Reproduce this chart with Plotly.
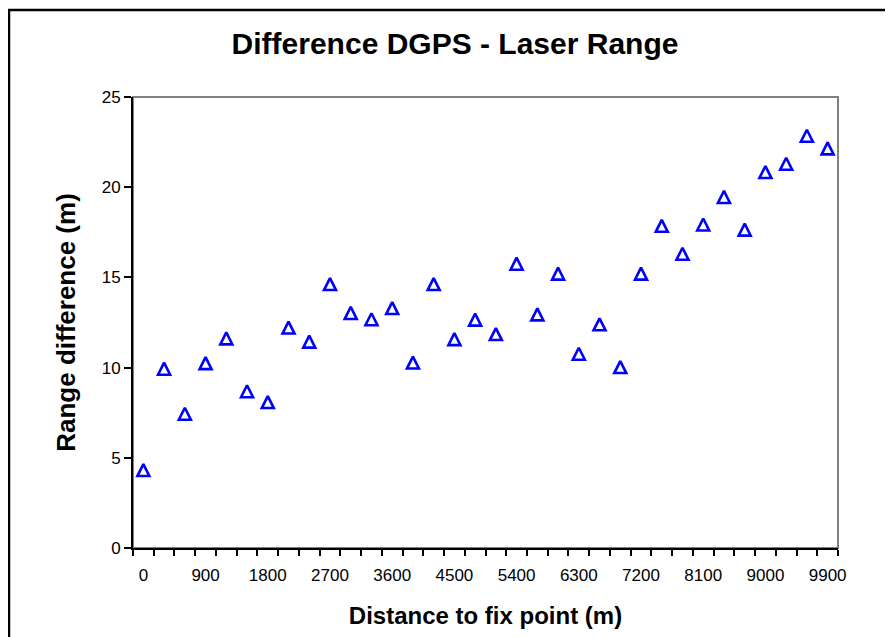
import plotly.graph_objects as go

distance_m = [0, 300, 600, 900, 1200, 1500, 1800, 2100, 2400, 2700, 3000, 3300,
              3600, 3900, 4200, 4500, 4800, 5100, 5400, 5700, 6000, 6300, 6600,
              6900, 7200, 7500, 7800, 8100, 8400, 8700, 9000, 9300, 9600, 9900]
range_diff_m = [4.32, 9.94, 7.44, 10.25, 11.62, 8.69, 8.09, 12.22, 11.44, 14.63,
                13.03, 12.68, 13.30, 10.28, 14.63, 11.58, 12.66, 11.86, 15.76,
                12.95, 15.21, 10.77, 12.40, 10.03, 15.21, 17.86, 16.31, 17.93,
                19.46, 17.65, 20.84, 21.30, 22.85, 22.15]
x_tick_labels = [0, 900, 1800, 2700, 3600, 4500, 5400, 6300, 7200, 8100, 9000, 9900]
y_tick_labels = [0, 5, 10, 15, 20, 25]

FONT = "Liberation Sans, Arial, sans-serif"
# the page body adds an 8px offset, so the figure is 8px smaller on each axis
W, H = 885, 629
L, T = 125, 89
R, B = 55, 89
pw, ph = W - L - R, H - T - B

fig = go.Figure()
fig.add_trace(go.Scatter(
    x=distance_m, y=range_diff_m, mode="markers",
    marker=dict(symbol="arrow-down-open", angle=180, standoff=6, size=12,
                color="#0000FF", line=dict(color="#0000FF", width=2.6)),
    showlegend=False, cliponaxis=False,
))

fig.update_layout(
    width=W, height=H,
    margin=dict(l=L, r=R, t=T, b=B),
    paper_bgcolor="white", plot_bgcolor="white",
    font=dict(family=FONT, color="black"),
    title=dict(text="<b>Difference DGPS - Laser Range</b>",
               font=dict(size=30, family=FONT, color="black"),
               x=447 / W, xanchor="center", y=1 - 35 / H, yanchor="middle",
               xref="container", yref="container"),
    xaxis=dict(
        range=[-150, 10050], showgrid=False, zeroline=False,
        tickmode="array", tickvals=x_tick_labels, ticktext=[str(v) for v in x_tick_labels],
        ticks="", tickfont=dict(size=17, family=FONT), ticklabelstandoff=11,
        showline=True, linecolor="black", linewidth=2,
        minor=dict(tick0=-150, dtick=300, ticks="outside", ticklen=6,
                   tickcolor="black", tickwidth=1.5, showgrid=False),
        title=dict(text="<b>Distance to fix point (m)</b>",
                   font=dict(size=24, family=FONT), standoff=23),
        fixedrange=True,
    ),
    yaxis=dict(
        range=[0, 25], showgrid=False, zeroline=False,
        tickmode="array", tickvals=y_tick_labels,
        ticks="outside", ticklen=7, tickcolor="black", tickwidth=1.5,
        tickfont=dict(size=17, family=FONT),
        showline=True, linecolor="black", linewidth=2,
        title=dict(text="<b>Range difference (m)</b>",
                   font=dict(size=26, family=FONT), standoff=19),
        fixedrange=True,
    ),
    shapes=[
        dict(type="rect", xref="paper", yref="paper", x0=0, x1=1, y0=0, y1=1,
             line=dict(color="#808080", width=2), layer="below"),
        dict(type="rect", xref="paper", yref="paper",
             x0=(1 - L) / pw, x1=(W + 20 - L) / pw,
             y0=(H - B - (H + 20)) / ph, y1=(H - B - 2) / ph,
             line=dict(color="black", width=2.5), fillcolor="rgba(0,0,0,0)", layer="above"),
    ],
)

fig.write_html("out.html")
